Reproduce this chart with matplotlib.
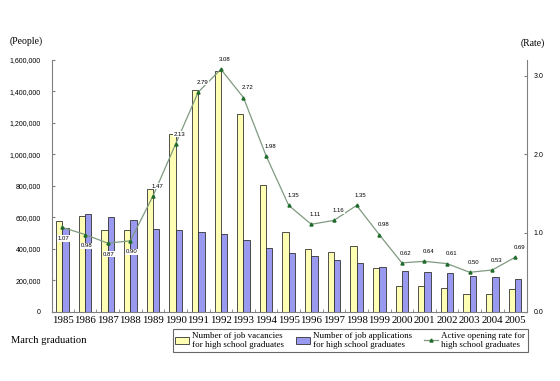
import matplotlib.pyplot as plt
import numpy as np

years = ['1985', '1986', '1987', '1988', '1989', '1990', '1991', '1992', '1993', '1994', '1995',
         '1996', '1997', '1998', '1999', '2000', '2001', '2002', '2003', '2004', '2005']
vacancies = [573000, 608000, 519000, 519000, 779000, 1128000, 1410000, 1530000, 1255000, 805000, 504000,
             397000, 380000, 414000, 279000, 165000, 160000, 150000, 111000, 113000, 145000]
applications = [534000, 620000, 603000, 582000, 526000, 521000, 504000, 496000, 457000, 403000, 373000,
                356000, 328000, 306000, 285000, 261000, 255000, 244000, 225000, 218000, 210000]
rates = [1.07, 0.98, 0.87, 0.90, 1.47, 2.13, 2.79, 3.08, 2.72, 1.98, 1.35,
         1.11, 1.16, 1.35, 0.98, 0.62, 0.64, 0.61, 0.50, 0.53, 0.69]
left_ticks = [0, 200000, 400000, 600000, 800000, 1000000, 1200000, 1400000, 1600000]
right_ticks = [0.0, 1.0, 2.0, 3.0]

serif = {'family': 'Liberation Serif'}
sans = {'family': 'Liberation Sans'}
grey = '#808080'
line_kw = dict(color='#7f9a80', linewidth=0.9, marker='^', markersize=2.2,
               markerfacecolor='#1f6b2a', markeredgecolor='#1f6b2a')

fig = plt.figure(figsize=(5.6, 3.81), dpi=100)
ax = fig.add_axes([0.093, 0.182, 0.848, 0.661])
x = np.arange(len(years))
w = 0.28
ax.bar(x - w/2, vacancies, w, color='#FFFFB3', edgecolor='#333333', linewidth=0.6, zorder=2)
ax.bar(x + w/2, applications, w, color='#9999F0', edgecolor='#333333', linewidth=0.6, zorder=2)
ax.set_xlim(-0.46, 20.53)
ax.set_ylim(0, 1600000)
ax.set_yticks(left_ticks)
ax.set_yticklabels(['{:,}'.format(v) for v in left_ticks], fontsize=5, **sans)
ax.set_xticks(x)
ax.set_xticklabels(years, fontsize=7.8, **serif)
ax.set_xticks(x[:-1] + 0.5, minor=True)
ax.tick_params(axis='x', which='major', length=0, pad=3)
ax.tick_params(axis='x', which='minor', length=2, direction='in', color=grey)
ax.tick_params(axis='y', length=2, direction='in', color=grey, pad=8)
for s in ['top', 'right']:
    ax.spines[s].set_visible(False)
for s in ['left', 'bottom']:
    ax.spines[s].set_color(grey)

ax2 = ax.twinx()
ax2.plot(x, rates, zorder=3, **line_kw)
ax2.set_ylim(0, 3.2)
ax2.set_yticks(right_ticks)
ax2.set_yticklabels(['{:.1f}'.format(v) for v in right_ticks], fontsize=5, **sans)
ax2.tick_params(axis='y', length=2, direction='in', color=grey, pad=5)
ax2.spines['top'].set_visible(False)
ax2.spines['left'].set_visible(False)
ax2.spines['bottom'].set_visible(False)
ax2.spines['right'].set_color(grey)

# rate labels: below the point for the first four years, above afterwards
for i, r in enumerate(rates):
    off = (1, -8) if i < 4 else (3, 7)
    ax2.annotate('{:.2f}'.format(r), (i, r), xytext=off, textcoords='offset points',
                 ha='center', va='center', fontsize=4.3, family='Liberation Sans',
                 bbox=dict(boxstyle='square,pad=0.1', fc='white', ec='none'), zorder=4)

fig.text(0.018, 0.885, '(People)', fontsize=7, **serif)
fig.text(0.93, 0.88, '(Rate)', fontsize=7, **serif)
fig.text(0.02, 0.1, 'March graduation', fontsize=7.6, **serif)

h1 = plt.Rectangle((0, 0), 1, 1, fc='#FFFFB3', ec='#333333', lw=0.6)
h2 = plt.Rectangle((0, 0), 1, 1, fc='#9999F0', ec='#333333', lw=0.6)
h3, = ax2.plot([], [], **line_kw)
leg = fig.legend([h1, h2, h3],
                 ['Number of job vacancies\nfor high school graduates',
                  'Number of job applications\nfor high school graduates',
                  'Active opening rate for\nhigh school graduates'],
                 loc='upper left', bbox_to_anchor=(0.3, 0.148), ncol=3,
                 prop=serif | {'size': 6.5}, frameon=True, fancybox=False, edgecolor='#444444',
                 handlelength=1.5, handleheight=0.8, columnspacing=1.3, handletextpad=0.4,
                 borderpad=0.3, labelspacing=0.2)
leg.get_frame().set_linewidth(0.8)

plt.savefig('out.png', dpi=100)
